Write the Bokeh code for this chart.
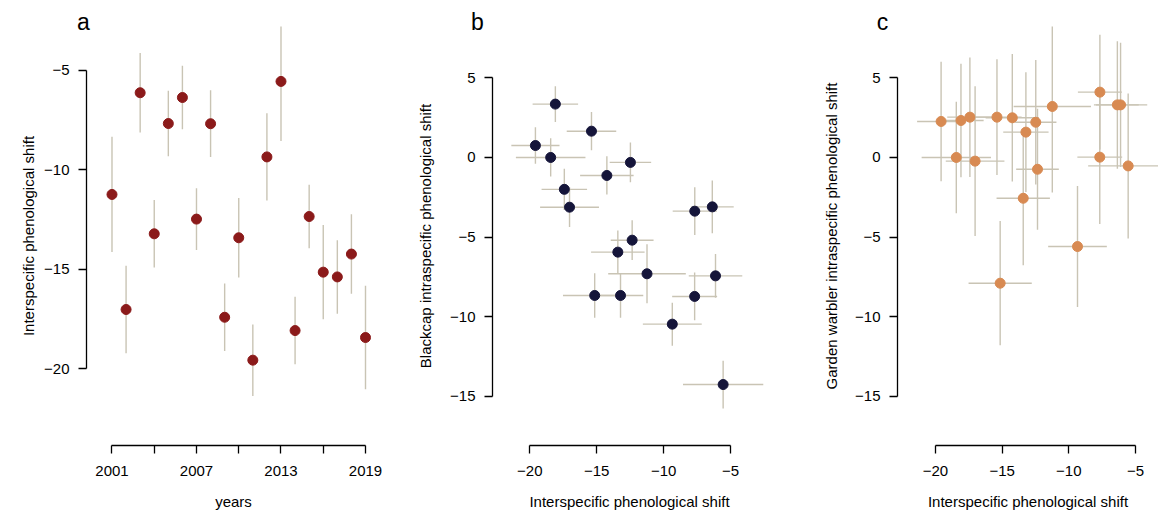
from bokeh.plotting import figure
from bokeh.layouts import row
from bokeh.models import FixedTicker, Label, ColumnDataSource, Range1d
from bokeh.embed import file_html
from bokeh.resources import INLINE

# ---------------- data ----------------
years = list(range(2001, 2020))
inter_shift = [-11.24, -17.03, -6.12, -13.22, -7.67, -6.36, -12.48, -7.68, -17.42, -13.42,
               -19.58, -9.35, -5.55, -18.09, -12.35, -15.15, -15.39, -14.24, -18.44]
inter_err = [2.9, 2.2, 2.0, 1.7, 1.65, 1.6, 1.55, 1.68, 1.7, 2.0,
             1.8, 2.2, 3.0, 1.7, 1.6, 2.37, 1.85, 2.0, 2.6]
blackcap_shift = [-7.3, -3.12, -7.43, -8.66, -3.37, -3.1, -0.31, -8.72, -2.0, -5.94,
                  0.75, -10.46, -14.25, 3.35, -5.19, -8.66, 1.65, -1.13, 0.0]
blackcap_err = [1.85, 1.25, 1.38, 1.4, 1.5, 1.65, 1.25, 1.5, 1.3, 1.35,
                1.15, 1.35, 1.5, 1.12, 1.25, 1.4, 1.2, 1.2, 1.2]
warbler_shift = [3.2, -0.23, 3.3, 1.59, 4.1, 3.3, 2.21, 0.02, 2.53, -2.56,
                 2.26, -5.59, -0.53, 2.32, -0.74, -7.89, 2.53, 2.49, 0.0]
warbler_err = [5.4, 4.7, 3.9, 3.76, 3.6, 4.0, 3.9, 4.2, 3.75, 4.2,
               3.75, 3.8, 4.55, 3.56, 3.8, 3.9, 3.63, 4.0, 3.5]

year_ticks = [2001, 2004, 2007, 2010, 2013, 2016, 2019]
year_labels = ["2001", "", "2007", "", "2013", "", "2019"]
a_yticks = [-5, -10, -15, -20]
shift_ticks = [-20, -15, -10, -5]
intra_ticks = [5, 0, -5, -10, -15]

FONT = "Liberation Sans"
BAR = "#c9c4b4"
COL_A = "#8b1a1a"
COL_B = "#15153a"
COL_C = "#d88a52"


def lab(v):
    return str(v).replace("-", "\u2212")


def make_fig(width, bl, br, xr, yr):
    p = figure(width=width, height=520, output_backend="svg", toolbar_location=None,
               x_range=Range1d(*xr), y_range=Range1d(*yr),
               min_border_left=bl, min_border_right=br, min_border_top=15,
               min_border_bottom=75)
    p.outline_line_color = None
    p.xgrid.visible = False
    p.ygrid.visible = False
    p.background_fill_color = "white"
    p.border_fill_color = "white"
    return p


def style_axis(ax, ticks, labels, bounds, title):
    ax.ticker = FixedTicker(ticks=ticks)
    ax.major_label_overrides = {t: l for t, l in zip(ticks, labels)}
    ax.bounds = bounds
    ax.minor_tick_line_color = None
    ax.major_tick_in = 0
    ax.major_tick_out = 8
    ax.axis_line_width = 1.3
    ax.major_tick_line_width = 1.3
    ax.axis_line_color = "black"
    ax.major_tick_line_color = "black"
    ax.major_label_text_font = FONT
    ax.major_label_text_font_size = "15px"
    ax.major_label_text_color = "black"
    ax.major_label_standoff = 9
    ax.axis_label = title
    ax.axis_label_text_font = FONT
    ax.axis_label_text_font_size = "15px"
    ax.axis_label_text_font_style = "normal"
    ax.axis_label_text_color = "black"


def letter(p, txt, sx, sy):
    # placed in the (unclipped) top side panel; screen units relative to that panel
    p.add_layout(Label(x=sx, y=sy, x_units="screen", y_units="screen", text=txt,
                       text_font=FONT, text_font_size="23px",
                       text_align="center", text_baseline="alphabetic", text_color="black"),
                 "above")


def set_x(ax):
    ax.major_label_standoff = 12
    ax.axis_label_standoff = 14


# ---------------- panel a ----------------
pa = make_fig(388, 86, 8, (1999.19, 2020.065), (-23.875, -2.786))
src_a = ColumnDataSource(dict(x=years, y=inter_shift,
                              lo=[v - e for v, e in zip(inter_shift, inter_err)],
                              hi=[v + e for v, e in zip(inter_shift, inter_err)]))
pa.segment(x0="x", y0="lo", x1="x", y1="hi", source=src_a, line_color=BAR, line_width=1.4)
pa.scatter(x="x", y="y", source=src_a, size=10, marker="circle", fill_color=COL_A, line_color=COL_A)
style_axis(pa.xaxis[0], year_ticks, year_labels, (2001, 2019), "years")
style_axis(pa.yaxis[0], a_yticks, [lab(t) for t in a_yticks], (-20, -5), "Interspecific phenological shift")
set_x(pa.xaxis[0])
pa.yaxis[0].axis_label_standoff = 4
letter(pa, "a", -3, 5)


def scatter_panel(width, bl, br, xr, ys, yerr, color, ytitle, ltxt, lx, ystand):
    p = make_fig(width, bl, br, xr, (-18.075, 8.219))
    src = ColumnDataSource(dict(
        x=inter_shift, y=ys,
        xlo=[v - e for v, e in zip(inter_shift, inter_err)],
        xhi=[v + e for v, e in zip(inter_shift, inter_err)],
        ylo=[v - e for v, e in zip(ys, yerr)],
        yhi=[v + e for v, e in zip(ys, yerr)]))
    p.segment(x0="xlo", y0="y", x1="xhi", y1="y", source=src, line_color=BAR, line_width=1.4)
    p.segment(x0="x", y0="ylo", x1="x", y1="yhi", source=src, line_color=BAR, line_width=1.4)
    p.scatter(x="x", y="y", source=src, size=10, marker="circle", fill_color=color, line_color=color)
    style_axis(p.xaxis[0], shift_ticks, [lab(t) for t in shift_ticks], (-20, -5),
               "Interspecific phenological shift")
    style_axis(p.yaxis[0], intra_ticks, [lab(t) for t in intra_ticks], (-15, 5), ytitle)
    set_x(p.xaxis[0])
    p.yaxis[0].axis_label_standoff = ystand
    letter(p, ltxt, lx, 5)
    return p


pb = scatter_panel(384, 104, 6, (-22.788, -2.309), blackcap_shift, blackcap_err, COL_B,
                   "Blackcap intraspecific phenological shift", "b", -15, 13)
pc = scatter_panel(386, 125, 0, (-22.85, -3.275), warbler_shift, warbler_err, COL_C,
                   "Garden warbler intraspecific phenological shift", "c", -15, 12)

layout = row(pa, pb, pc)
open("out.html", "w").write(file_html(layout, INLINE))
